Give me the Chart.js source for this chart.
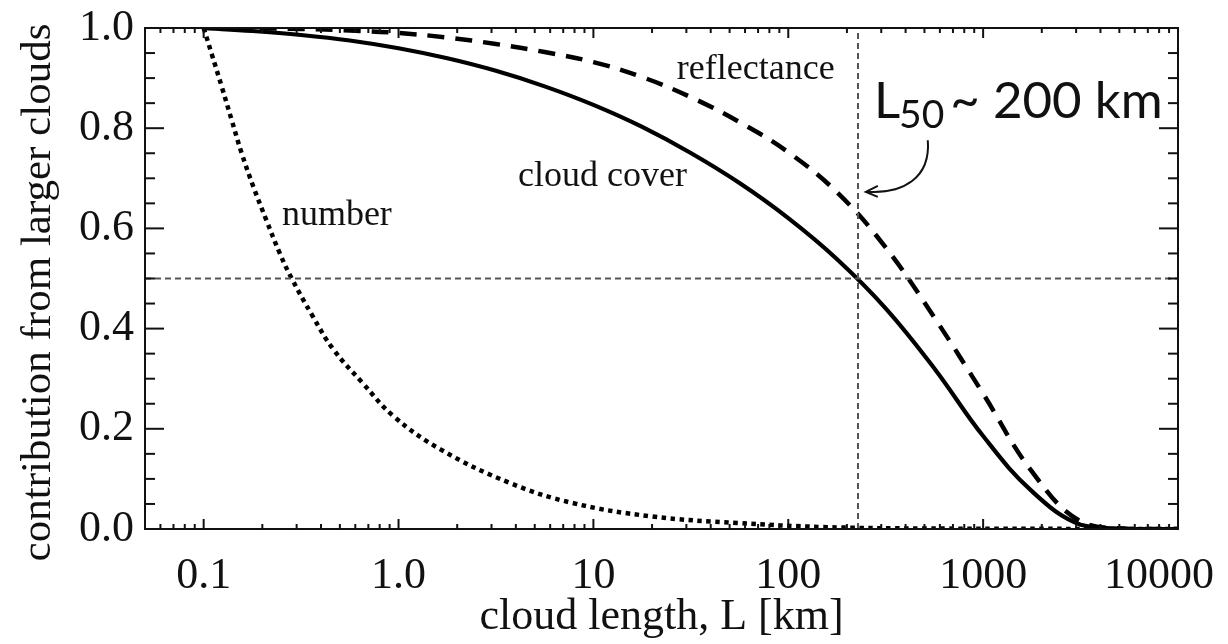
<!DOCTYPE html>
<html><head><meta charset="utf-8">
<script src="https://cdn.jsdelivr.net/npm/chart.js@4.4.1/dist/chart.umd.min.js"></script>
<style>html,body{margin:0;padding:0;background:#fff}#wrap{width:1228px;height:644px}</style>
</head><body><div id="wrap"><canvas id="c" width="1228" height="644"></canvas></div>
<script>
// ---- tick labels ----
const xTickValues = [0.1, 1, 10, 100, 1000, 10000];
const xTickLabels = ['0.1', '1.0', '10', '100', '1000', '10000'];
const yTickValues = [0, 0.2, 0.4, 0.6, 0.8, 1.0];
const yTickLabels = ['0.0', '0.2', '0.4', '0.6', '0.8', '1.0'];
const xTitle = 'cloud length, L [km]';
const yTitle = 'contribution from larger clouds';

// ---- series (cloud length L in km, fraction) ----
const numberL = [0.1, 0.11, 0.124, 0.1395, 0.157, 0.18, 0.21, 0.246, 0.283, 0.36, 0.462, 0.652, 0.944, 1.64, 3.72, 7.8, 20, 55, 150, 500, 10000];
const numberV = [1.0, 0.948, 0.882, 0.815, 0.749, 0.683, 0.616, 0.55, 0.5, 0.427, 0.359, 0.292, 0.225, 0.159, 0.092, 0.052, 0.025, 0.012, 0.004, 0.001, 0.0];

const coverL = [0.1, 0.178, 0.316, 0.562, 1, 1.78, 3.16, 5.62, 10, 17.8, 31.6, 56.2, 100, 178, 316, 562, 1000, 1778, 3162, 5623, 10000];
const coverV = [1.0, 0.994, 0.986, 0.975, 0.9595, 0.9395, 0.9145, 0.8835, 0.8465, 0.8025, 0.7505, 0.6905, 0.6205, 0.5385, 0.4405, 0.3205, 0.1855, 0.0755, 0.0085, 0.0, 0.0];

const reflL = [0.1, 0.178, 0.316, 0.562, 1, 1.78, 3.16, 5.62, 10, 17.8, 31.6, 56.2, 100, 178, 316, 562, 1000, 1778, 3162, 5623, 10000];
const reflV = [1.0, 0.9995, 0.998, 0.995, 0.990, 0.981, 0.968, 0.952, 0.932, 0.902, 0.862, 0.812, 0.752, 0.672, 0.562, 0.422, 0.270, 0.115, 0.015, 0.0, 0.0];

// reference lines
const L50 = 228;
const halfLevel = 0.5;
const xRange = [0.05, 10000];
const yRange = [0, 1];

const serif = "'Liberation Serif','Times New Roman',Times,serif";
const sans = "Lato,'Open Sans','Liberation Sans',sans-serif";
const ink = '#111';

const pts = (xs, ys) => xs.map((x, i) => ({x, y: ys[i]}));

function minorValues(lo, hi, majors) {
  const out = [];
  for (let e = -3; e <= 5; e++) {
    for (let m = 1; m <= 9; m++) {
      const v = +(m * Math.pow(10, e)).toPrecision(6);
      if (v > lo * 1.0001 && v < hi * 0.9999 && !majors.includes(v)) out.push(v);
    }
  }
  return out;
}

const frameTicks = {
  id: 'frameTicks',
  afterDatasetsDraw(chart) {
    const ctx = chart.ctx, {left, right, top, bottom} = chart.chartArea;
    const xs = chart.scales.x, ys = chart.scales.y;
    ctx.save();
    ctx.strokeStyle = ink; ctx.lineWidth = 2; ctx.lineCap = 'butt';
    ctx.strokeRect(left, top, right - left, bottom - top);
    const seg = (x1, y1, x2, y2) => { ctx.beginPath(); ctx.moveTo(x1, y1); ctx.lineTo(x2, y2); ctx.stroke(); };
    const xMin = minorValues(xRange[0], xRange[1], xTickValues);
    xTickValues.forEach(v => { const p = xs.getPixelForValue(v); seg(p, bottom, p, bottom - 10); seg(p, top, p, top + 10); });
    xMin.forEach(v => { const p = xs.getPixelForValue(v); seg(p, bottom, p, bottom - 5); seg(p, top, p, top + 5); });
    yTickValues.forEach(v => { const p = ys.getPixelForValue(v); seg(left, p, left + 19, p); seg(right, p, right - 19, p); });
    for (let k = 1; k < 20; k++) {
      if (k % 4 === 0) continue;
      const p = ys.getPixelForValue(k * 0.05);
      seg(left, p, left + 10, p); seg(right, p, right - 10, p);
    }
    // x tick labels (kept inside the canvas like the original)
    ctx.fillStyle = ink;
    ctx.font = '44px ' + serif;
    ctx.textBaseline = 'alphabetic'; ctx.textAlign = 'center';
    const W = chart.width;
    xTickValues.forEach((v, i) => {
      let p = xs.getPixelForValue(v);
      const w = ctx.measureText(xTickLabels[i]).width;
      if (p + w / 2 > W - 14) p = W - 14 - w / 2;
      ctx.fillText(xTickLabels[i], p, bottom + 59);
    });
    // y title
    ctx.save();
    ctx.translate(50, (top + bottom) / 2 + 14);
    ctx.rotate(-Math.PI / 2);
    ctx.font = '43px ' + serif;
    ctx.fillText(yTitle, 0, 0);
    ctx.restore();
    ctx.restore();
  }
};

const labels = [
  {text: 'reflectance', x: 26.8, y: 0.898},
  {text: 'cloud cover', x: 4.10, y: 0.685},
  {text: 'number', x: 0.252, y: 0.607}
];
const l50Label = {x: 285, y: 0.82};
const arrow = {from: {x: 520, y: 0.776}, to: {x: 250, y: 0.673}};

const annot = {
  id: 'annot',
  afterDraw(chart) {
    const ctx = chart.ctx, xs = chart.scales.x, ys = chart.scales.y;
    ctx.save();
    ctx.fillStyle = ink;
    ctx.textBaseline = 'alphabetic'; ctx.textAlign = 'left';
    ctx.font = '36px ' + serif;
    labels.forEach(l => ctx.fillText(l.text, xs.getPixelForValue(l.x), ys.getPixelForValue(l.y)));
    // L50 ~ 200 km
    let px = xs.getPixelForValue(l50Label.x) - 3, py = ys.getPixelForValue(l50Label.y);
    ctx.font = '51px ' + sans;
    ctx.fillText('L', px, py);
    px += ctx.measureText('L').width - 1;
    ctx.font = '39px ' + sans;
    ctx.fillText('50', px, py + 10);
    px += ctx.measureText('50').width + 6;
    ctx.font = '51px ' + sans;
    ctx.fillText('~ 200 km', px, py);
    // curved arrow
    const sx = xs.getPixelForValue(arrow.from.x), sy = ys.getPixelForValue(arrow.from.y);
    const ex = xs.getPixelForValue(arrow.to.x), ey = ys.getPixelForValue(arrow.to.y);
    ctx.strokeStyle = ink; ctx.lineWidth = 2;
    ctx.beginPath(); ctx.moveTo(sx, sy);
    ctx.bezierCurveTo(sx + 3, sy + 38, sx - 25, ey + 2, ex + 2, ey);
    ctx.stroke();
    ctx.beginPath();
    ctx.moveTo(ex + 12, ey - 6); ctx.lineTo(ex, ey); ctx.lineTo(ex + 12, ey + 5);
    ctx.stroke();
    ctx.restore();
  }
};

const refStyle = {borderColor: '#555', borderWidth: 2, borderDash: [6, 4], pointRadius: 0, fill: false, tension: 0};

new Chart(document.getElementById('c').getContext('2d'), {
  type: 'line',
  data: {
    datasets: [
      Object.assign({label: 'half', data: [{x: xRange[0], y: halfLevel}, {x: xRange[1], y: halfLevel}]}, refStyle),
      Object.assign({label: 'L50', data: [{x: L50, y: yRange[0]}, {x: L50, y: yRange[1]}]}, refStyle),
      {label: 'number', data: pts(numberL, numberV), borderColor: '#000', borderWidth: 4.5, borderDash: [4.5, 4.5], borderCapStyle: 'butt', pointRadius: 0, tension: 0.4, fill: false},
      {label: 'cloud cover', data: pts(coverL, coverV), borderColor: '#000', borderWidth: 4.2, pointRadius: 0, tension: 0.4, fill: false},
      {label: 'reflectance', data: pts(reflL, reflV), borderColor: '#000', borderWidth: 4.5, borderDash: [17, 11], borderCapStyle: 'butt', pointRadius: 0, tension: 0.4, fill: false}
    ]
  },
  options: {
    responsive: false, animation: false, devicePixelRatio: 1,
    layout: {padding: {top: 28, right: 50, left: 0, bottom: 0}},
    plugins: {legend: {display: false}, tooltip: {enabled: false}},
    scales: {
      x: {
        type: 'logarithmic', min: xRange[0], max: xRange[1],
        grid: {display: false, drawTicks: false}, border: {display: false},
        afterBuildTicks(s) { s.ticks = xTickValues.map(v => ({value: v})); },
        afterFit(s) { s.height = 115; s.paddingLeft = 0; s.paddingRight = 0; },
        ticks: {display: false, autoSkip: false, maxRotation: 0, minRotation: 0, callback: (v, i) => xTickLabels[i]},
        title: {display: true, text: xTitle, color: ink, font: {family: serif, size: 44}, padding: {top: 0, bottom: 0}}
      },
      y: {
        type: 'linear', min: yRange[0], max: yRange[1],
        grid: {display: false, drawTicks: false}, border: {display: false},
        afterBuildTicks(s) { s.ticks = yTickValues.map(v => ({value: v})); },
        afterFit(s) { s.width = 145; s.paddingTop = 0; s.paddingBottom = 0; },
        ticks: {autoSkip: false, padding: 11, color: ink, font: {family: serif, size: 44}, callback: (v, i) => yTickLabels[i]},
        title: {display: false, text: yTitle}
      }
    }
  },
  plugins: [frameTicks, annot]
});
</script></body></html>
